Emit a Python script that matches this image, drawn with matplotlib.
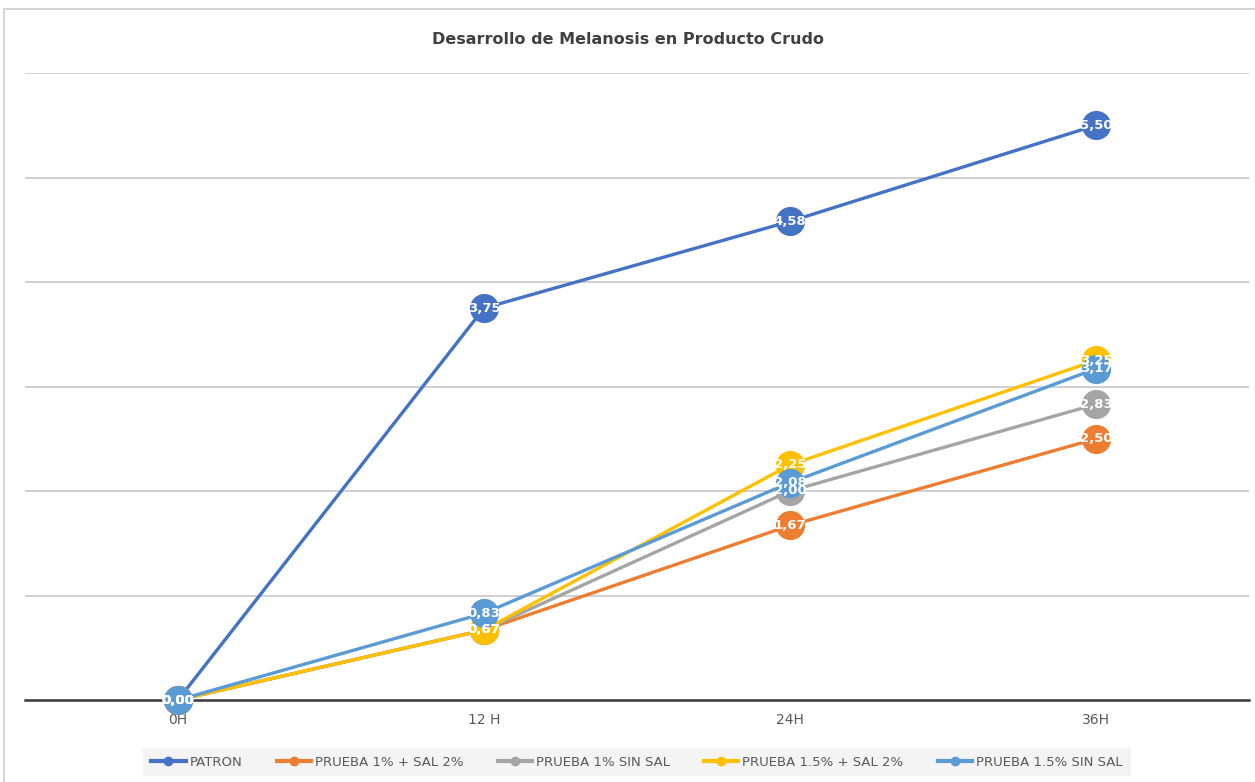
import matplotlib.pyplot as plt
from matplotlib.patches import Rectangle

# data
horas = ["0H", "12 H", "24H", "36H"]
series_names = ["PATRON", "PRUEBA 1% + SAL 2%", "PRUEBA 1% SIN SAL",
                "PRUEBA 1.5% + SAL 2%", "PRUEBA 1.5% SIN SAL"]
patron = [0.00, 3.75, 4.58, 5.50]
prueba_1_sal = [0.00, 0.67, 1.67, 2.50]
prueba_1_sin = [0.00, 0.67, 2.00, 2.83]
prueba_15_sal = [0.00, 0.67, 2.25, 3.25]
prueba_15_sin = [0.00, 0.83, 2.08, 3.17]
colores = ["#4472C4", "#ED7D31", "#A5A5A5", "#FFC000", "#5B9BD5"]

valores = [patron, prueba_1_sal, prueba_1_sin, prueba_15_sal, prueba_15_sin]

fig = plt.figure(figsize=(12.55, 7.82), dpi=100)
ax = fig.add_axes([25 / 1255, 82 / 782, 1224 / 1255, 627 / 782])

# outer chart border (light gray)
fig.patches.append(Rectangle((4 / 1255, -0.01), 1.02, 1.01 - 9 / 782,
                             transform=fig.transFigure, fill=False,
                             edgecolor="#D0D0D0", linewidth=1.2))

x = list(range(len(horas)))
for i, (name, vals, col) in enumerate(zip(series_names, valores, colores)):
    ax.plot(x, vals, color=col, linewidth=2.4, marker="o", markersize=21,
            markeredgewidth=0, label=name, zorder=3 + i, clip_on=False)

# data labels on top of the markers
for vals in valores:
    for xi, v in zip(x, vals):
        ax.text(xi, v, f"{v:.2f}".replace(".", ","), color="white",
                fontsize=9.5, fontweight="bold", ha="center", va="center",
                zorder=20)

ax.set_xlim(-0.5, 3.5)
ax.set_ylim(0, 6)
ax.set_yticks(range(1, 7))
ax.set_yticklabels([])
ax.set_xticks(x)
ax.set_xticklabels(horas, color="#595959", fontsize=10)
ax.tick_params(length=0, pad=9)
ax.grid(axis="y", color="#C8C8C8", linewidth=1.2)
ax.set_axisbelow(True)
for s in ax.spines.values():
    s.set_visible(False)
ax.axhline(0, color="#383838", linewidth=1.8, zorder=2, clip_on=False)

fig.text(0.5, 1 - 40 / 782, "Desarrollo de Melanosis en Producto Crudo",
         ha="center", va="center", fontsize=11.5, fontweight="bold",
         color="#404040")

handles = [plt.Line2D([], [], color=c, linewidth=3, marker="o", markersize=6)
           for c in colores]
leg = fig.legend(handles, series_names, loc="center",
                 bbox_to_anchor=(637 / 1255, 1 - 762 / 782), ncol=5,
                 fontsize=9.5, frameon=True, fancybox=False,
                 handlelength=2.6, handletextpad=0.3, columnspacing=2.6,
                 borderpad=0.6)
leg.get_frame().set_facecolor("#F2F2F2")
leg.get_frame().set_edgecolor("none")
for t in leg.get_texts():
    t.set_color("#595959")

fig.savefig("out.png", dpi=100)
